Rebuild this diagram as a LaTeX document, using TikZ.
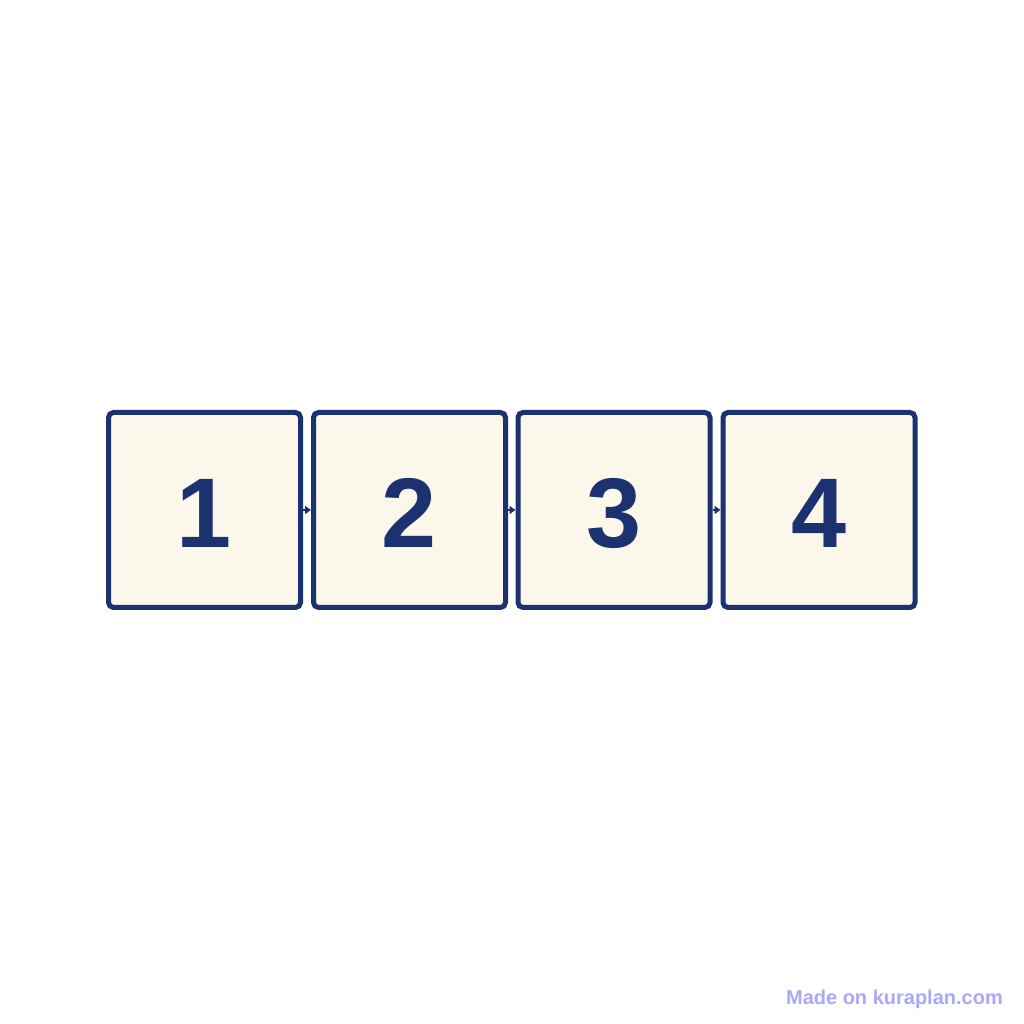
\documentclass[tikz,border=0pt]{standalone}
\usepackage{fontspec}
\setmainfont{Liberation Sans}
\usetikzlibrary{arrows.meta}
\definecolor{navy}{HTML}{1B3170}
\definecolor{cream}{HTML}{FCF7EB}
\definecolor{mark}{HTML}{A9A9F7}
\tikzset{
  card/.style={draw=navy, fill=cream, line width=5pt, rounded corners=5pt,
    minimum width=192pt, minimum height=195pt, inner sep=0pt,
    text height=76pt, text depth=0pt,
    text=navy, font=\fontsize{99}{99}\selectfont\bfseries},
  flow/.style={draw=navy, line width=2pt, -{Triangle[length=6pt,width=8pt]}},
}
\begin{document}
\begin{tikzpicture}[x=1pt,y=1pt]
\fill[white] (0,0) rectangle (1024,1024);
\useasboundingbox (0,0) rectangle (1024,1024);
\node[card] (c1) at (204.5,514) {1};
\node[card] (c2) at (409.5,514) {2};
\node[card] (c3) at (614,514) {3};
\node[card] (c4) at (819,514) {4};
\draw[flow] (c1.east) -- (c2.west);
\draw[flow] (c2.east) -- (c3.west);
\draw[flow] (c3.east) -- (c4.west);
\node[font=\fontsize{20}{20}\selectfont\bfseries, text=mark, anchor=east, inner sep=0pt] (wm) at (1003,25) {Made on kuraplan.com};
\end{tikzpicture}
\end{document}
